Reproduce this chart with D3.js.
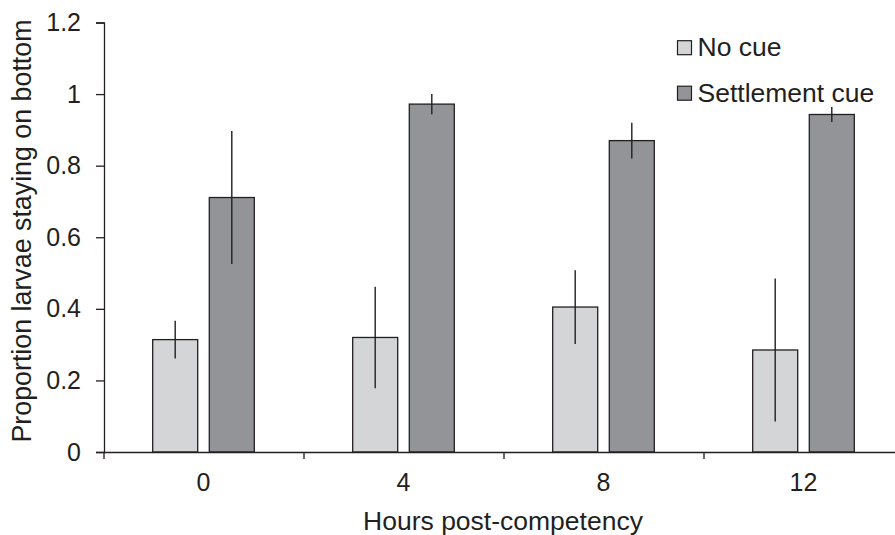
<!DOCTYPE html>
<html>
<head>
<meta charset="utf-8">
<script src="https://cdn.jsdelivr.net/npm/d3@7"></script>
<style>
  body { margin: 0; background: #fff; }
  text { font-family: "Liberation Sans", Arial, sans-serif; fill: #231f20; }
</style>
</head>
<body>
<div id="chart"></div>
<script>
// categories and series
var hours = ['0', '4', '8', '12'];
var seriesNames = ['No cue', 'Settlement cue'];
var noCue = [0.314, 0.320, 0.405, 0.285];
var noCueErr = [0.053, 0.142, 0.103, 0.200];
var settle = [0.711, 0.972, 0.870, 0.943];
var settleErr = [0.186, 0.028, 0.050, 0.021];
var yTicks = [0, 0.2, 0.4, 0.6, 0.8, 1, 1.2];

var W = 895, H = 535;
var ink = '#231f20';
var colors = ['#d4d5d7', '#939497'];

var svg = d3.select('#chart').append('svg').attr('width', W).attr('height', H);

var y = d3.scaleLinear().domain([0, 1.2]).range([452, 22.5]);
var x0 = d3.scaleBand().domain(hours).range([103.5, 903.5]);
var x1 = d3.scaleBand().domain(seriesNames).range([0, 101.6]).paddingInner(0.205);

//rows for the bars
var rows = [];
hours.forEach(function(h, i){
	rows.push({h: h, s: seriesNames[0], v: noCue[i], e: noCueErr[i]});
	rows.push({h: h, s: seriesNames[1], v: settle[i], e: settleErr[i]});
});
function barX(d){ return x0(d.h) + x0.bandwidth()/2 - 50.8 + x1(d.s); }

svg.selectAll('rect.bar').data(rows).enter().append('rect')
	.attr('class', 'bar')
	.attr('x', barX)
	.attr('y', function(d){ return y(d.v); })
	.attr('width', x1.bandwidth())
	.attr('height', function(d){ return y(0) - y(d.v); })
	.attr('fill', function(d){ return colors[seriesNames.indexOf(d.s)]; })
	.attr('stroke', ink).attr('stroke-width', 1.3);

svg.selectAll('line.err').data(rows).enter().append('line')
	.attr('class', 'err')
	.attr('x1', function(d){ return barX(d) + x1.bandwidth()/2; })
	.attr('x2', function(d){ return barX(d) + x1.bandwidth()/2; })
	.attr('y1', function(d){ return y(d.v + d.e); })
	.attr('y2', function(d){ return y(d.v - d.e); })
	.attr('stroke', ink).attr('stroke-width', 1.4);

// y axis
var yAxis = svg.append('g').attr('transform', 'translate(104,0)')
	.call(d3.axisLeft(y).tickValues(yTicks).tickSizeOuter(0).tickSize(8).tickPadding(15)
		.tickFormat(function(d){ return String(+d.toFixed(1)); }));
yAxis.selectAll('path, line').attr('stroke', ink).attr('stroke-width', 1.3);
yAxis.selectAll('text').attr('font-size', 25).attr('fill', ink)
	.style('font-family', '"Liberation Sans", Arial, sans-serif');

// x axis: boundary ticks and centred labels
var edges = hours.map(function(h){ return x0(h); }).concat([x0.range()[1]]);
var xAxis = svg.append('g').attr('transform', 'translate(0,452)')
	.call(d3.axisBottom(d3.scaleLinear().domain([103.5, 903.5]).range([103.5, 903.5]))
		.tickValues(edges).tickSize(7).tickSizeOuter(0).tickFormat(''));
xAxis.selectAll('path, line').attr('stroke', ink).attr('stroke-width', 1.3);

var xLab = svg.append('g').attr('transform', 'translate(0,452)')
	.call(d3.axisBottom(x0).tickSize(0).tickPadding(21));
xLab.select('.domain').remove();
xLab.selectAll('text').attr('font-size', 25).attr('fill', ink)
	.style('font-family', '"Liberation Sans", Arial, sans-serif');

// titles
svg.append('text').attr('x', 503).attr('y', 530).attr('text-anchor', 'middle')
	.attr('font-size', 26.5).text('Hours post-competency');
svg.append('text').attr('transform', 'translate(31,231) rotate(-90)').attr('text-anchor', 'middle')
	.attr('font-size', 26.8).text('Proportion larvae staying on bottom');

// legend
var leg = svg.selectAll('g.leg').data(seriesNames).enter().append('g')
	.attr('class', 'leg')
	.attr('transform', function(d, i){ return 'translate(677.5,' + (40.7 + i*45.5) + ')'; });
leg.append('rect').attr('width', 14).attr('height', 14)
	.attr('fill', function(d, i){ return colors[i]; })
	.attr('stroke', ink).attr('stroke-width', 1.2);
leg.append('text').attr('x', 20).attr('y', 15.5).attr('font-size', 26.5)
	.text(function(d){ return d; });
</script>
</body>
</html>
